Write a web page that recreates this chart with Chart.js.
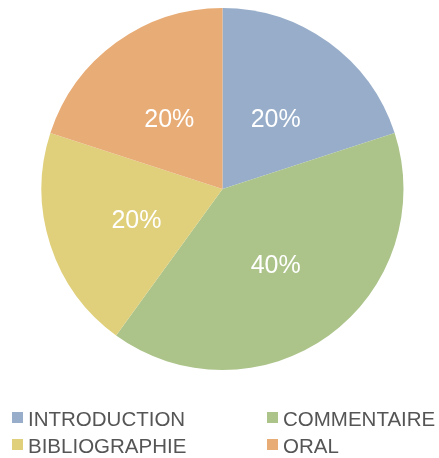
<!DOCTYPE html>
<html>
<head>
<meta charset="utf-8">
<script src="https://cdn.jsdelivr.net/npm/chart.js@4/dist/chart.umd.min.js"></script>
<style>
  html, body { margin: 0; padding: 0; background: #ffffff; }
  #wrap { position: relative; width: 439px; height: 458px; }
  #c { position: absolute; left: 0; top: 0; }
  #legend { position: absolute; left: 0; top: 0; width: 439px; height: 458px; font-family: "Liberation Sans", Arial, Helvetica, sans-serif; font-size: 20.5px; color: #555555; }
  .box { position: absolute; width: 11px; height: 11px; }
  .txt { position: absolute; white-space: nowrap; line-height: 1; }
</style>
</head>
<body>
<div id="wrap">
  <canvas id="c" width="439" height="380"></canvas>
  <div id="legend"></div>
</div>
<script>
const categories = ["INTRODUCTION", "COMMENTAIRE", "BIBLIOGRAPHIE", "ORAL"];
const values = [20, 40, 20, 20];
const colors = ["#97adc9", "#acc48a", "#e0d07c", "#e8ac76"];

const labelPlugin = {
  id: 'sliceLabels',
  afterDatasetsDraw(chart) {
    const ctx = chart.ctx;
    const meta = chart.getDatasetMeta(0);
    const data = chart.data.datasets[0].data;
    const total = data.reduce((a, b) => a + b, 0);
    const size = 25;
    ctx.save();
    ctx.fillStyle = '#ffffff';
    ctx.font = size + 'px "Liberation Sans", Arial, Helvetica, sans-serif';
    ctx.textAlign = 'center';
    ctx.textBaseline = 'alphabetic';
    meta.data.forEach((arc, i) => {
      const p = arc.getCenterPoint();
      const pct = Math.round(data[i] / total * 100) + '%';
      ctx.fillText(pct, p.x, p.y + 2 + 0.716 * size / 2);
    });
    ctx.restore();
  }
};

new Chart(document.getElementById('c'), {
  type: 'pie',
  data: {
    labels: categories,
    datasets: [{
      data: values,
      backgroundColor: colors,
      borderWidth: 0
    }]
  },
  options: {
    responsive: false,
    animation: false,
    devicePixelRatio: 1,
    layout: { padding: { top: 8, bottom: 10, left: 41, right: 35 } },
    plugins: {
      legend: { display: false },
      tooltip: { enabled: false }
    }
  },
  plugins: [labelPlugin]
});

// HTML legend built from the arrays (2 columns)
const legend = document.getElementById('legend');
const colX = [12, 267];
const rowY = [412, 439];
categories.forEach((name, i) => {
  const col = i % 2, row = Math.floor(i / 2);
  const box = document.createElement('div');
  box.className = 'box';
  box.style.left = colX[col] + 'px';
  box.style.top = rowY[row] + 'px';
  box.style.background = colors[i];
  legend.appendChild(box);
  const t = document.createElement('div');
  t.className = 'txt';
  t.style.left = (colX[col] + 16) + 'px';
  t.style.top = (rowY[row] - 3) + 'px';
  t.textContent = name;
  legend.appendChild(t);
});
</script>
</body>
</html>
